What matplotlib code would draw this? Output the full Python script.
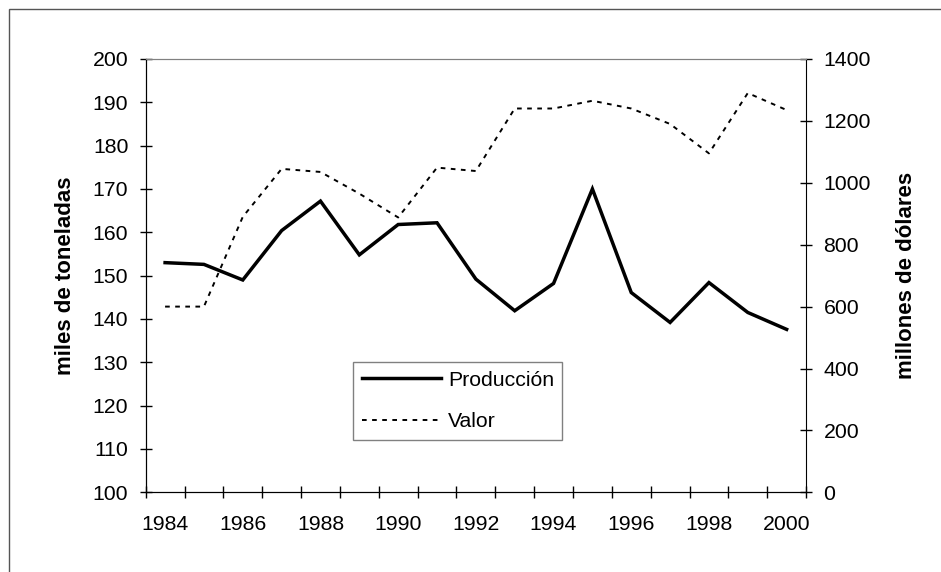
"""
Producción y valor, 1984-2000 (dos ejes Y)
"""
import matplotlib
matplotlib.use('Agg')
import matplotlib.pyplot as plt
from matplotlib.patches import Rectangle

# Datos
years = [1984, 1985, 1986, 1987, 1988, 1989, 1990, 1991, 1992,
         1993, 1994, 1995, 1996, 1997, 1998, 1999, 2000]
produccion = [153.0, 152.6, 149.0, 160.4, 167.2, 154.8, 161.8, 162.2, 149.2,
              141.9, 148.2, 170.0, 146.1, 139.2, 148.4, 141.5, 137.6]
valor = [600, 600, 890, 1045, 1035, 965, 888, 1049, 1038,
         1240, 1240, 1265, 1240, 1190, 1095, 1290, 1235]

left_ticks = list(range(100, 201, 10))
right_ticks = list(range(0, 1401, 200))
label_years = years[::2]

plt.rcParams['font.family'] = ['Liberation Sans', 'DejaVu Sans']
FS = 15.3
FS_LABEL = 16

fig = plt.figure(figsize=(9.41, 5.72), dpi=100)
ax = fig.add_axes([0.1548, 0.1393, 0.7018, 0.7576])
ax2 = ax.twinx()

l1, = ax.plot(years, produccion, color='black', linewidth=2.5,
              solid_joinstyle='miter', label='Producción')
l2, = ax2.plot(years, valor, color='black', linewidth=1.4,
               dashes=(2.4, 2.8), label='Valor')

# Eje X tipo categoría: marcas entre años, etiquetas cada dos años
ax.set_xlim(years[0] - 0.5, years[-1] + 0.5)
ax.set_xticks([y - 0.5 for y in years] + [years[-1] + 0.5])
ax.set_xticklabels([])
ax.set_xticks(label_years, minor=True)
ax.set_xticklabels([str(y) for y in label_years], minor=True, fontsize=FS)
ax.tick_params(axis='x', which='major', direction='inout', length=9, width=1)
ax.tick_params(axis='x', which='minor', length=0, pad=16)

ax.set_ylim(100, 200)
ax.set_yticks(left_ticks)
ax.tick_params(axis='y', direction='inout', length=9, width=1, labelsize=FS, pad=8)
ax.set_ylabel('miles de toneladas', fontsize=FS_LABEL, fontweight='bold', labelpad=12)

ax2.set_ylim(0, 1400)
ax2.set_yticks(right_ticks)
ax2.tick_params(axis='y', direction='inout', length=9, width=1, labelsize=FS, pad=8)
ax2.set_ylabel('millones de dólares', fontsize=FS_LABEL, fontweight='bold', labelpad=18)

# Bordes
for a in (ax, ax2):
    a.spines['top'].set_color('#808080')
    a.spines['left'].set_color('black')
    a.spines['bottom'].set_color('black')
ax.spines['right'].set_visible(False)
ax2.spines['right'].set_color('black')

leg = ax2.legend(handles=[l1, l2], loc='upper left',
                 bbox_to_anchor=(353.3 / 941, 1 - 362.3 / 572),
                 bbox_transform=fig.transFigure, borderaxespad=0,
                 fontsize=FS, handlelength=3.75, handletextpad=0.3,
                 labelspacing=1.05, borderpad=0.4, fancybox=False,
                 framealpha=1, edgecolor='#808080')
leg.get_frame().set_linewidth(1)

# Marco exterior del gráfico (recortado a la derecha y abajo)
fig.add_artist(Rectangle((9 / 941, -0.5), 2, 1 - 9 / 572 + 0.5,
                         transform=fig.transFigure, fill=False,
                         edgecolor='#555555', linewidth=1))

fig.savefig('out.png', dpi=100)
plt.close(fig)
